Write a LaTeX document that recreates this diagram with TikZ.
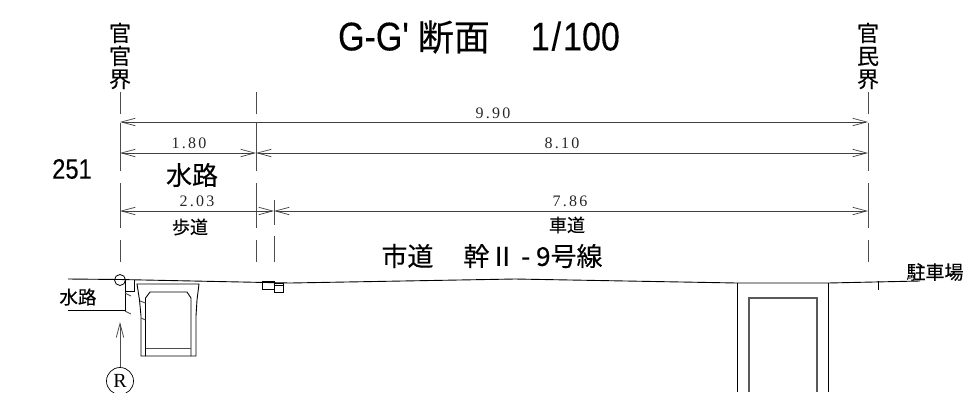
\documentclass[tikz,border=0pt]{standalone}
\usepackage{fontspec}
\usepackage{tikz}
\usetikzlibrary{arrows.meta,calc,positioning}
\setmainfont{Liberation Serif}
\newfontfamily\jpfont[FakeBold=0.25]{Noto Sans CJK JP}
\newfontfamily\narrowfont[FakeStretch=0.85,FakeBold=0.25]{Liberation Sans}
\newfontfamily\dimfont[LetterSpace=14]{Liberation Serif}
\tikzstyle{dimline}=[<->,draw=black!75,line width=.7pt]
\tikzstyle{extline}=[draw=black!70,line width=.8pt]
\tikzstyle{outline}=[draw=black,line width=.9pt]
\tikzstyle{dimlabel}=[font=\fontsize{16}{16}\dimfont,text=black!85,inner sep=0pt]
\tikzstyle{jplabel}=[font=\fontsize{18}{18}\jpfont,inner sep=0pt]
\tikzstyle{biglabel}=[font=\fontsize{26}{26}\jpfont,inner sep=0pt]
\tikzstyle{boundary}=[font=\fontsize{22}{23}\jpfont,align=center,inner sep=0pt]

\begin{document}
\begin{tikzpicture}[x=1pt,y=-1pt,>={Straight Barb[length=14pt,width=7.5pt]}]
        \useasboundingbox (0,0) rectangle (974,392);
        % title and side labels
        \node (title) at (479,37) [inner sep=0pt,font=\fontsize{40}{40}\narrowfont] {G-G'\hspace{9pt}{\fontsize{36}{36}\jpfont 断面}\hspace{41pt}1\kern2pt/\kern2pt100};
        \node (leftbound) at (120,56) [boundary] {官\\官\\界};
        \node (rightbound) at (868,56) [boundary] {官\\民\\界};
        \node (roadno) at (72,169) [inner sep=0pt,font=\fontsize{28}{28}\narrowfont] {251};
        \node (channel) at (192,175) [biglabel] {水路};
        \node (walk) at (190,227) [jplabel] {歩道};
        \node (lane) at (567,225) [jplabel] {車道};
        \node (road) at (492,256) [biglabel] {市道\hspace{30pt}幹Ⅱ - 9号線};
        \node (parking) at (935,272) [jplabel,font=\fontsize{19}{19}\jpfont] {駐車場};
        \node (sidechannel) at (78,297) [jplabel,font=\fontsize{18.5}{18.5}\jpfont] {水路};
        % extension lines
        \foreach \x in {120,256,868} {
                \draw[extline] (\x,92) -- (\x,114);
                \draw[extline] (\x,123) -- (\x,171);
                \draw[extline] (\x,183) -- (\x,228);
                \draw[extline] (\x,240) -- (\x,262);
        }
        \draw[extline] (274,200) -- (274,225);
        \draw[extline] (274,236) -- (274,262);
        % dimensions
        \coordinate (a1) at (120,122);
        \coordinate (a2) at (868,122);
        \coordinate (b1) at (120,153);
        \coordinate (b2) at (256,153);
        \coordinate (b3) at (868,153);
        \coordinate (c1) at (120,211);
        \coordinate (c2) at (274,211);
        \coordinate (c3) at (868,211);
        \draw[dimline] (a1) -- (a2);
        \draw[dimline] (b1) -- (b2);
        \draw[dimline] (b2) -- (b3);
        \draw[dimline] (c1) -- (c2);
        \draw[dimline] (c2) -- (c3);
        \node (d990) at (493,113) [dimlabel] {9.90};
        \node (d180) at (189,143) [dimlabel] {1.80};
        \node (d810) at (562,143) [dimlabel] {8.10};
        \node (d203) at (197,201) [dimlabel] {2.03};
        \node (d786) at (570,201) [dimlabel] {7.86};
        % road surface
        \draw[outline] (68,279) -- (120,279.5) -- (290,283) -- (515,279) -- (737,283) -- (828,283) -- (920,281);
        \draw[outline] (878,281) -- (878,290);
        % channel wall
        \node (mark) at (120,280) [circle,draw,line width=.8pt,minimum size=11pt,inner sep=0pt] {};
        \draw[outline] (68,310) -- (125,310) -- (125,280);
        \draw[outline] (125,291) -- (134,291) -- (134,280);
        \draw[outline,draw=black!70] (125,293) -- (131,296);
        \draw[outline,draw=black!70] (125,311) -- (131,314);
        % box girder left
        \draw[outline] (141,356) -- (141,316) -- (139.5,300) -- (137,284) -- (199,284) -- (197,300) -- (196,316) -- (196,356) -- cycle;
        \draw[outline] (145.5,356) -- (145.5,298) -- (150,292) -- (187,292) -- (191,298) -- (191,356);
        \draw[outline,draw=black!70] (145.5,348) -- (191,348);
        \draw[outline,draw=black!70] (140,301) -- (145.5,303);
        \draw[outline,draw=black!70] (141,318) -- (145.5,320);
        % kerb blocks
        \draw[outline] (262,281.5) rectangle (274,289);
        \draw[outline] (274,283) rectangle (283,292);
        \draw[outline] (274,285.5) -- (283,285.5);
        % box right
        \draw[outline] (737.5,283) -- (737.5,392);
        \draw[outline] (828,283) -- (828,392);
        \draw[draw=black!65,line width=1.1pt] (749,392) -- (749,298) -- (817,298) -- (817,392);
        % viewpoint
        \node (viewmark) at (120,381) [circle,draw,line width=.7pt,minimum size=27pt,inner sep=0pt,font=\fontsize{20}{20}\selectfont] {R};
        \coordinate (viewtip) at (120,322);
        \draw[->,extline] (viewmark) -- (viewtip);
\end{tikzpicture}
\end{document}
